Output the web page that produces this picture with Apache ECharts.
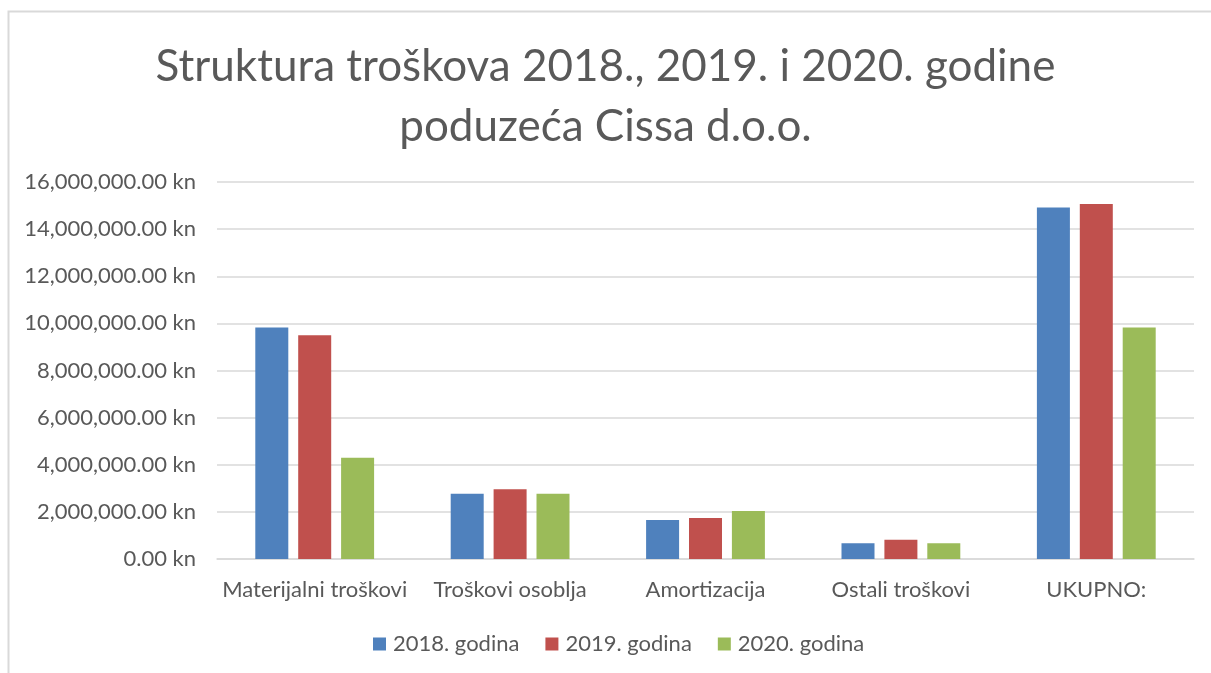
<!DOCTYPE html>
<html>
<head>
<meta charset="utf-8">
<script src="https://cdn.jsdelivr.net/npm/echarts@6/dist/echarts.min.js"></script>
<style>
  html, body { margin: 0; padding: 0; background: #fff; }
  #chart { width: 1211px; height: 673px; }
</style>
</head>
<body>
<div id="chart"></div>
<script>
// podaci
var kategorije = ["Materijalni troškovi", "Troškovi osoblja", "Amortizacija", "Ostali troškovi", "UKUPNO:"];
var god2018 = [9820000, 2770000, 1650000, 670000, 14920000];
var god2019 = [9500000, 2960000, 1740000, 820000, 15070000];
var god2020 = [4300000, 2770000, 2040000, 670000, 9820000];
var yTicks = [0, 2000000, 4000000, 6000000, 8000000, 10000000, 12000000, 14000000, 16000000];

var font = "Lato, 'Open Sans', sans-serif";
var siva = "#595959";

function kune(v) {
  var s = Math.round(v).toString().replace(/\B(?=(\d{3})+(?!\d))/g, ",");
  return s + ".00 kn";
}

var myChart = echarts.init(document.getElementById('chart'));

var option = {
  animation: false,
  backgroundColor: "#fff",
  graphic: [{
    type: "rect",
    shape: { x: 8.5, y: 11.5, width: 1400, height: 900 },
    style: { fill: "none", stroke: "#d9d9d9", lineWidth: 2 },
    silent: true
  }],
  title: {
    text: "Struktura troškova 2018., 2019. i 2020. godine\npoduzeća Cissa d.o.o.",
    left: "center",
    top: 32,
    textStyle: {
      fontFamily: font,
      fontSize: 44,
      fontWeight: "normal",
      color: siva,
      lineHeight: 60
    }
  },
  legend: {
    left: 368,
    top: 628,
    itemWidth: 13,
    itemHeight: 13,
    itemGap: 26,
    icon: "rect",
    textStyle: { fontFamily: font, fontSize: 22, color: siva, padding: [0, 0, 0, 2] },
    data: ["2018. godina", "2019. godina", "2020. godina"]
  },
  grid: {
    left: 217,
    right: 17,
    top: 182,
    bottom: 114,
    containLabel: false
  },
  xAxis: {
    type: "category",
    data: kategorije,
    axisLine: { lineStyle: { color: "#d9d9d9", width: 1.5 } },
    axisTick: { show: false },
    axisLabel: { fontFamily: font, fontSize: 22, color: siva, margin: 20, interval: 0 }
  },
  yAxis: {
    type: "value",
    min: yTicks[0],
    max: yTicks[yTicks.length - 1],
    interval: 2000000,
    axisLine: { show: false },
    axisTick: { show: false },
    splitLine: { lineStyle: { color: "#d9d9d9", width: 1.5 } },
    axisLabel: {
      fontFamily: font, fontSize: 22, color: siva, margin: 21,
      formatter: kune
    }
  },
  series: [
    {
      name: "2018. godina",
      type: "bar",
      barWidth: 33,
      barGap: "30%",
      itemStyle: { color: "#4F81BD" },
      data: god2018
    },
    {
      name: "2019. godina",
      type: "bar",
      barWidth: 33,
      barGap: "30%",
      itemStyle: { color: "#C0504D" },
      data: god2019
    },
    {
      name: "2020. godina",
      type: "bar",
      barWidth: 33,
      barGap: "30%",
      itemStyle: { color: "#9BBB59" },
      data: god2020
    }
  ]
};

myChart.setOption(option);
</script>
</body>
</html>
